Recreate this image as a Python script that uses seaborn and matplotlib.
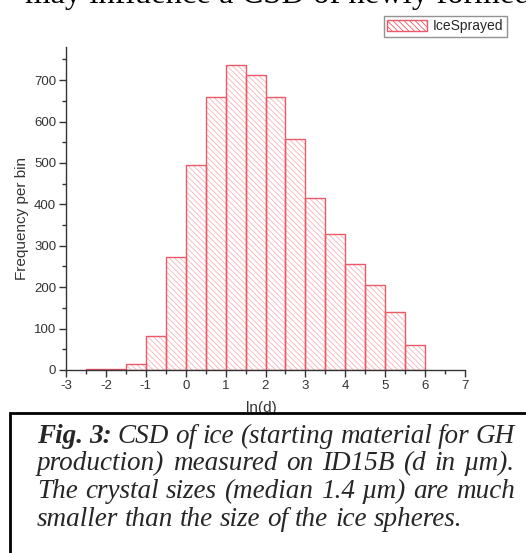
import numpy as np
import pandas as pd
import matplotlib
matplotlib.use("Agg")
import matplotlib.pyplot as plt
import seaborn as sns
from matplotlib.patches import Rectangle, Patch

# ---- data ----
bin_edges = [-2.5, -2.0, -1.5, -1.0, -0.5, 0.0, 0.5, 1.0, 1.5, 2.0, 2.5,
             3.0, 3.5, 4.0, 4.5, 5.0, 5.5, 6.0]
counts = [2, 3, 14, 82, 274, 494, 659, 736, 713, 660, 559, 415, 328, 256,
          205, 141, 60]
series_name = "IceSprayed"
x_label = "ln(d)"
y_label = "Frequency per bin"
x_ticks = [-3, -2, -1, 0, 1, 2, 3, 4, 5, 6, 7]
y_ticks = [0, 100, 200, 300, 400, 500, 600, 700]
top_text = "may influence a CSD of newly formed"
caption_lines = [
    [("Fig.", "bold"), ("3:", "bold"), "CSD", "of", "ice", "(starting", "material", "for", "GH"],
    ["production)", "measured", "on", "ID15B", "(d", "in", "\u00b5m)."],
    ["The", "crystal", "sizes", "(median", "1.4", "\u00b5m)", "are", "much"],
    ["smaller", "than", "the", "size", "of", "the", "ice", "spheres."],
]

sns.set_style("ticks")
plt.rcParams["font.family"] = ["Liberation Sans", "DejaVu Sans"]
plt.rcParams["hatch.linewidth"] = 0.6
plt.rcParams["axes.unicode_minus"] = False

edge_red = "#ec5a68"
hatch_pink = "#f6b3b9"

W, H = 526, 553
fig = plt.figure(figsize=(W / 100, H / 100), dpi=100)
ax = fig.add_axes([66 / W, 1 - 370 / H, (465 - 66) / W, (370 - 47) / H])

edges = list(bin_edges)
centers = [(a + b) / 2 for a, b in zip(bin_edges[:-1], bin_edges[1:])]
df = pd.DataFrame({"x": centers, "w": counts})

# hatched fill layer
sns.histplot(data=df, x="x", weights="w", bins=edges, ax=ax, stat="count",
             color="white", edgecolor=hatch_pink, linewidth=0, alpha=1,
             hatch="\\\\\\\\\\\\")
# outline layer
sns.histplot(data=df, x="x", weights="w", bins=edges, ax=ax, stat="count",
             fill=False, color=edge_red, edgecolor=edge_red, linewidth=1.0,
             element="bars")

ax.set_xlim(-3, 7)
ax.set_ylim(0, 780)
ax.set_xticks(x_ticks)
ax.set_yticks(y_ticks)
ax.set_xticks(np.arange(-2.5, 7, 1.0), minor=True)
ax.set_yticks(np.arange(50, 780, 100), minor=True)
for s in ["top", "right"]:
    ax.spines[s].set_visible(False)
for s in ["left", "bottom"]:
    ax.spines[s].set_color("#333333")
    ax.spines[s].set_linewidth(1.0)
ax.tick_params(axis="both", which="major", direction="out", length=5,
               width=1, color="#333333", labelsize=9.5, labelcolor="#333333", pad=2)
ax.tick_params(axis="both", which="minor", direction="out", length=3,
               width=1, color="#333333")
ax.set_xlabel(x_label, fontsize=11, color="#333333")
ax.set_ylabel(y_label, fontsize=11, color="#333333")
ax.xaxis.set_label_coords((261 - 66) / 399, (370 - 401) / 323)
ax.yaxis.set_label_coords((29 - 66) / 399, (370 - 219) / 323)

# legend
handle = Patch(facecolor="white", edgecolor=edge_red, hatch="\\\\\\\\\\\\", linewidth=1)
fig.legend([handle], [series_name], loc="upper right",
           bbox_to_anchor=(507 / W, 1 - 16 / H), bbox_transform=fig.transFigure,
           fancybox=False, frameon=True, edgecolor="#777777", fontsize=10,
           borderpad=0.25, handlelength=2.9, handleheight=0.9, handletextpad=0.4,
           borderaxespad=0)

# top cut-off text line of the page
fig.text(25 / W, 1 - 3 / H, top_text, fontsize=23.5, family="Liberation Serif",
         ha="left", va="baseline", color="black")

# caption box
rect = Rectangle((10 / W, -0.01), 1.0, (553 - 413) / H + 0.01,
                 transform=fig.transFigure, facecolor="white",
                 edgecolor="black", linewidth=2, zorder=5)
fig.patches.append(rect)

fig.canvas.draw()
renderer = fig.canvas.get_renderer()
cap_fs = 19.5


def word_props(wd):
    if isinstance(wd, tuple):
        return wd[0], "bold"
    return wd, "normal"


def measure(txt, weight):
    t = fig.text(0, 0, txt, fontsize=cap_fs, family="Liberation Serif",
                 style="italic", weight=weight)
    w = t.get_window_extent(renderer).width
    t.remove()
    return w


space_w = measure("a a", "normal") - measure("aa", "normal")
left_px, right_px = 37, 515
baselines = [443, 470.5, 498, 526]
for i, line in enumerate(caption_lines):
    words = [word_props(w) for w in line]
    widths = [measure(t, wt) for t, wt in words]
    justify = i < len(caption_lines) - 1
    if justify:
        gap = (right_px - left_px - sum(widths)) / (len(words) - 1)
    else:
        gap = space_w
    x = left_px
    for (t, wt), w in zip(words, widths):
        fig.text(x / W, 1 - baselines[i] / H, t, fontsize=cap_fs,
                 family="Liberation Serif", style="italic", weight=wt,
                 ha="left", va="baseline", zorder=6)
        x += w + gap

fig.savefig("out.png", dpi=100)
